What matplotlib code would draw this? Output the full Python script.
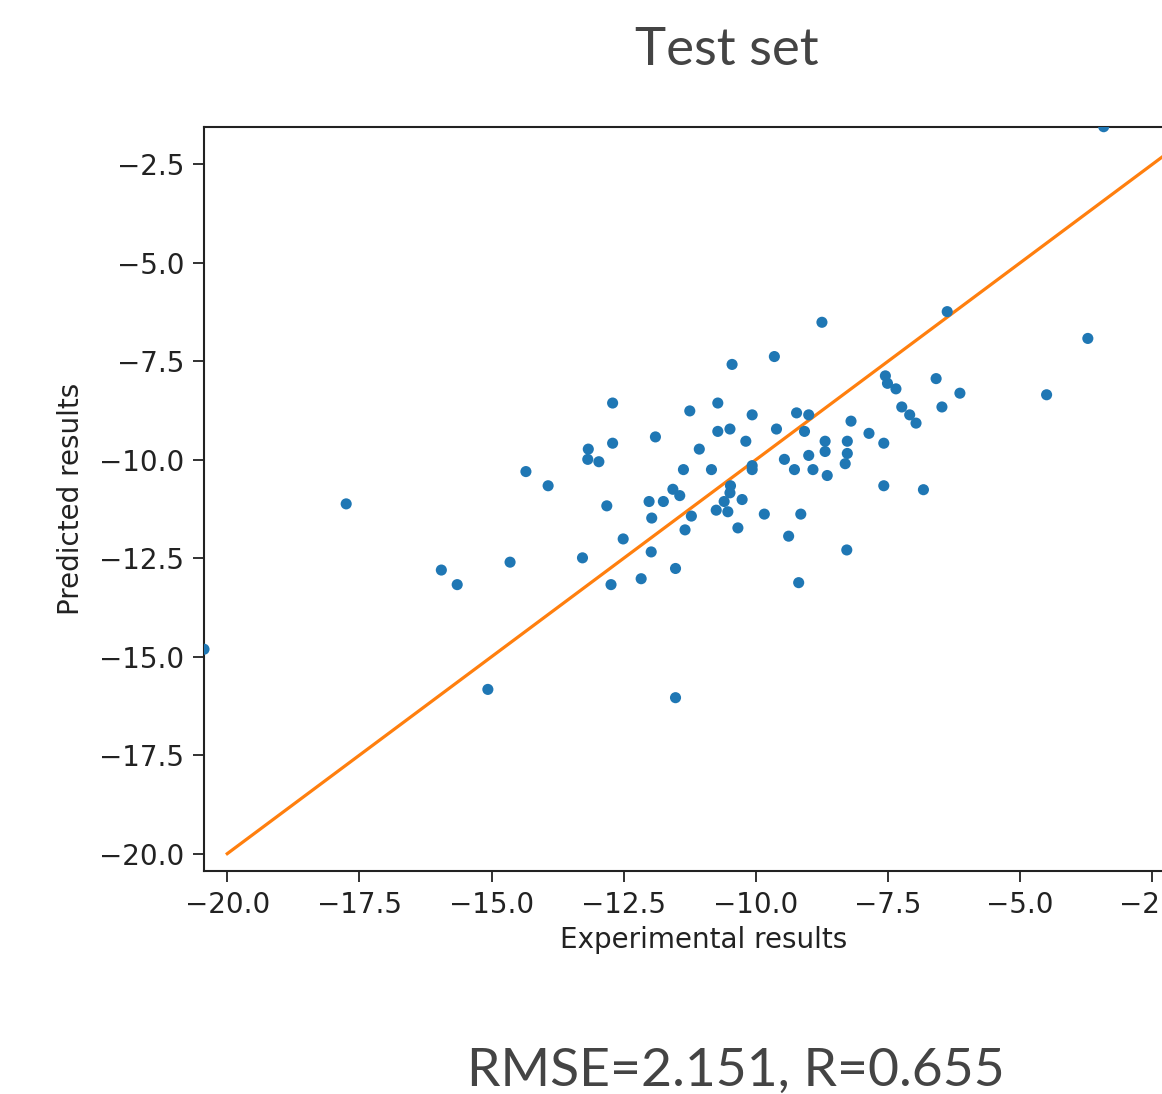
import matplotlib
matplotlib.use("Agg")
import matplotlib.pyplot as plt
import numpy as np

# Experimental (x) vs predicted (y) values, test set
experimental = [
    -12.71, -11.25, -11.90, -12.71, -13.17, -13.18, -12.97, -11.07, -14.35, -13.93,
    -11.37, -11.57, -11.44, -12.02, -11.75, -12.82, -11.97, -11.22, -11.34, -12.51,
    -8.75, -6.38, -9.65, -10.45, -7.55, -7.51, -7.35, -6.59, -6.48, -7.24,
    -7.09, -6.97, -10.72, -10.07, -9.23, -9.00, -8.20, -10.72, -10.49, -9.61,
    -9.08, -7.86, -10.19, -8.69, -8.27, -7.58, -8.69, -8.27, -9.00, -10.84,
    -10.07, -10.07, -9.46, -9.27, -8.92, -8.65, -8.31, -7.58, -6.83, -10.48,
    -10.49, -10.60, -10.26, -10.75, -10.53, -9.84, -9.15, -10.34, -9.38, -14.65,
    -13.28, -11.98, -11.52, -12.17, -12.74, -8.28, -9.19, -11.52, -3.42, -3.72,
    -6.14, -4.50, -17.75, -15.95, -15.65, -20.44, -15.07,
]
predicted = [
    -8.56, -8.76, -9.42, -9.58, -9.73, -9.99, -10.05, -9.73, -10.30, -10.66,
    -10.25, -10.75, -10.91, -11.06, -11.06, -11.17, -11.48, -11.43, -11.78, -12.01,
    -6.51, -6.24, -7.38, -7.58, -7.87, -8.06, -8.20, -7.94, -8.66, -8.66,
    -8.86, -9.07, -8.56, -8.86, -8.81, -8.86, -9.02, -9.28, -9.22, -9.22,
    -9.28, -9.33, -9.53, -9.53, -9.53, -9.58, -9.79, -9.84, -9.89, -10.25,
    -10.15, -10.25, -9.99, -10.25, -10.25, -10.40, -10.10, -10.66, -10.76, -10.66,
    -10.84, -11.06, -11.01, -11.28, -11.32, -11.38, -11.38, -11.73, -11.94, -12.60,
    -12.49, -12.34, -12.76, -13.02, -13.17, -12.29, -13.12, -16.04, -1.545, -6.92,
    -8.31, -8.35, -11.12, -12.80, -13.17, -14.81, -15.83,
]
identity_line = [-20.0, 0.0]

title_text = "Test set"
metrics_text = "RMSE=2.151, R=0.655"
xlabel_text = "Experimental results"
ylabel_text = "Predicted results"

W, H = 1162, 1094
fig = plt.figure(figsize=(W / 100, H / 100), dpi=100)
fig.patch.set_facecolor("white")

left, right, top, bottom = 204, 1202.8, 126.7, 871
ax = fig.add_axes([left / W, 1 - bottom / H, (right - left) / W, (bottom - top) / H])

x = np.array(experimental)
y = np.array(predicted)
ax.scatter(x, y, s=64, color="#1f77b4", edgecolors="none", zorder=3)
ax.plot(identity_line, identity_line, color="#ff7f0e", lw=2.3, zorder=2)

lo = min(x.min(), y.min())
hi = max(x.max(), y.max())
ax.set_xlim(lo, hi)
ax.set_ylim(lo, hi)
ticks = [-20.0, -17.5, -15.0, -12.5, -10.0, -7.5, -5.0, -2.5]
ax.set_xticks(ticks)
ax.set_yticks(ticks)
ax.tick_params(labelsize=20, length=7.7, width=1.3, pad=6.5, colors="#222222")
for sp in ax.spines.values():
    sp.set_linewidth(1.5)
    sp.set_color("#222222")

ax.set_xlabel(xlabel_text, fontsize=20, labelpad=5, color="#222222")
ax.set_ylabel(ylabel_text, fontsize=20, labelpad=10, color="#222222")

fig.text(727 / W, 1 - 65 / H, title_text, ha="center", va="baseline",
         fontsize=38, family="Lato", color="#444444")
fig.text(736 / W, 1 - 1086 / H, metrics_text, ha="center", va="baseline",
         fontsize=38.5, family="Lato", color="#444444")

fig.savefig("out.png", dpi=100)
